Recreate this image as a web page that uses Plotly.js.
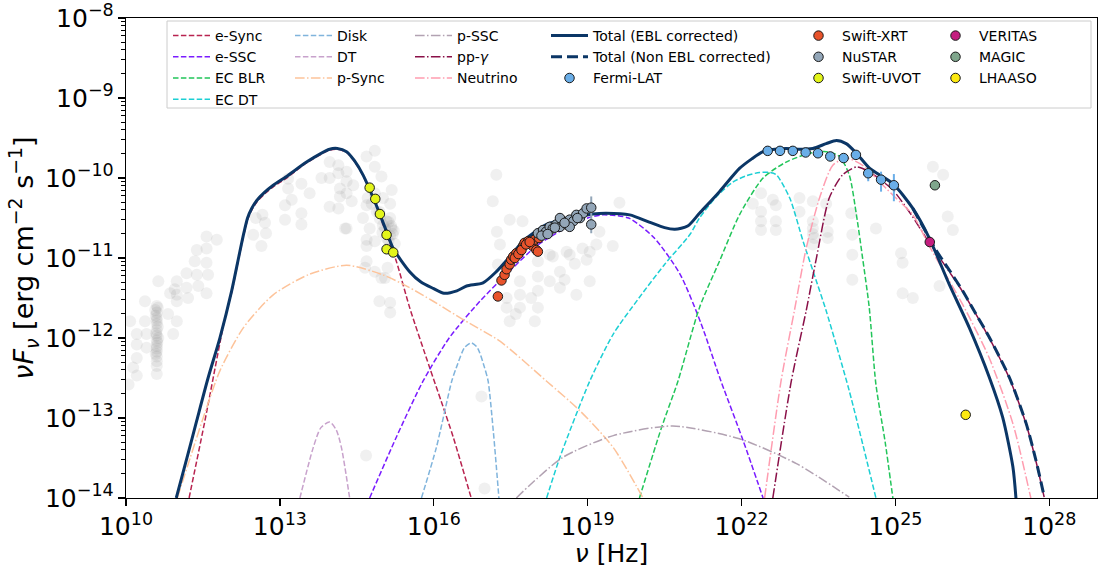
<!DOCTYPE html>
<html>
<head>
<meta charset="utf-8">
<script src="https://cdn.plot.ly/plotly-3.0.1.min.js"></script>
<style>html,body{margin:0;padding:0;background:#fff}#plot{width:1099px;height:568px}</style>
</head>
<body>
<div id="plot"></div>
<script>
// All values are log10(nu / Hz) and log10(nuFnu / erg cm^-2 s^-1)

// ---- model curves ----
const totalX = [10.98,11.2,11.38,11.6,11.83,12.06,12.2,12.3,12.37,12.45,12.55,12.7,12.87,13.13,13.52,13.97,14.12,14.3,14.45,14.62,14.88,15.05,15.21,15.53,15.75,15.99,16.2,16.45,16.64,16.96,17.22,17.5,17.74,18.2,18.5,18.85,19.1,19.36,19.82,20.2,20.5,20.7,20.95,21.18,21.57,21.96,22.2,22.42,22.65,22.87,23.1,23.39,23.65,23.85,24.04,24.24,24.5,24.95,25.34,25.66,26.05,26.44,26.83,27.09,27.29,27.35];
const totalY = [-14,-13.47,-13.03,-12.5,-12.0,-11.41,-10.98,-10.68,-10.5,-10.38,-10.28,-10.18,-10.09,-9.98,-9.8,-9.64,-9.63,-9.67,-9.78,-9.96,-10.34,-10.62,-10.88,-11.17,-11.3,-11.38,-11.44,-11.41,-11.35,-11.31,-11.17,-10.97,-10.79,-10.58,-10.52,-10.48,-10.45,-10.44,-10.46,-10.55,-10.62,-10.64,-10.6,-10.44,-10.17,-9.88,-9.76,-9.67,-9.64,-9.63,-9.64,-9.63,-9.57,-9.53,-9.57,-9.69,-9.88,-10.07,-10.38,-10.75,-11.33,-11.87,-12.49,-12.99,-13.61,-14];
const totalNoEblX = [25.34,25.66,25.79,26.05,26.31,26.57,26.83,27.22,27.55,27.74,27.9];
const totalNoEblY = [-10.38,-10.75,-10.9,-11.15,-11.41,-11.7,-11.99,-12.49,-13.07,-13.53,-13.98];
const eSyncX = [11.23,11.54,11.93,12.06,12.2,12.3,12.37,12.45,12.55,12.7,12.87,13.13,13.52,13.97,14.12,14.3,14.45,14.62,14.88,15.05,15.27,15.53,15.92,16.15,16.38,16.73];
const eSyncY = [-14,-13.03,-11.75,-11.43,-11.0,-10.7,-10.52,-10.4,-10.3,-10.2,-10.11,-10.0,-9.81,-9.65,-9.64,-9.68,-9.79,-9.97,-10.35,-10.65,-11.04,-11.62,-12.37,-12.8,-13.24,-14];
const eSscX = [14.75,15.27,15.79,16.3,16.9,17.5,18.0,18.5,19.0,19.3,19.8,20.3,20.8,21.2,21.6,22.03,22.42];
const eSscY = [-14,-13.24,-12.54,-12.0,-11.54,-11.15,-10.85,-10.65,-10.5,-10.46,-10.5,-10.75,-11.2,-11.8,-12.54,-13.28,-14];
const ecBlrX = [20.01,20.44,20.76,21.18,21.57,21.96,22.42,22.87,23.33,23.65,23.91,24.1,24.24,24.36,24.49,24.62,24.8,24.95];
const ecBlrY = [-14,-13.12,-12.54,-11.62,-11.04,-10.46,-10.0,-9.8,-9.69,-9.67,-9.73,-9.96,-10.46,-11.0,-11.62,-12.58,-13.3,-14];
const ecDtX = [18.2,18.46,19.04,19.5,20.0,20.5,21.0,21.18,21.5,21.83,22.1,22.35,22.55,22.68,22.94,23.2,23.46,23.65,24.1,24.62];
const ecDtY = [-14,-13.49,-12.54,-11.95,-11.5,-11.08,-10.7,-10.5,-10.24,-10.05,-9.97,-9.93,-9.93,-9.96,-10.25,-10.79,-11.29,-11.66,-12.66,-14];
const diskX = [15.76,16.05,16.35,16.44,16.6,16.73,16.85,16.99,17.06,17.16,17.27];
const diskY = [-14,-13.37,-12.54,-12.37,-12.12,-12.06,-12.12,-12.37,-12.54,-13.16,-14];
const dtX = [13.39,13.65,13.8,13.97,14.1,14.2,14.36];
const dtY = [-14,-13.37,-13.12,-13.05,-13.15,-13.37,-14];
const pSyncX = [11.0,11.25,11.51,11.83,12.29,12.87,13.55,14.3,15.01,15.5,15.99,16.6,17.29,18.2,18.85,19.5,20.08];
const pSyncY = [-14,-13.5,-12.99,-12.41,-11.87,-11.46,-11.21,-11.09,-11.21,-11.36,-11.54,-11.78,-12.04,-12.54,-12.91,-13.37,-14];
const pSscX = [17.61,17.87,18.52,19.5,20.66,21.96,23.07,24.1];
const pSscY = [-14,-13.84,-13.49,-13.22,-13.1,-13.26,-13.57,-13.99];
const ppGX = [22.61,22.97,23.26,23.46,23.71,23.97,24.24,24.36,24.6,24.95,25.3,25.6,25.79,26.31,26.83,27.22,27.55,27.74,27.9];
const ppGY = [-14,-12.54,-11.66,-11.0,-10.25,-9.96,-9.86,-9.88,-9.97,-10.15,-10.45,-10.75,-10.93,-11.42,-12.0,-12.5,-13.08,-13.54,-13.99];
const nuX = [22.45,22.77,23.03,23.26,23.52,23.78,24.04,24.36,24.82,25.01,25.34,25.66,26.31,26.83,27.29,27.64];
const nuY = [-14,-12.54,-11.66,-10.88,-10.25,-9.84,-9.75,-9.84,-10.13,-10.25,-10.46,-10.85,-11.58,-12.25,-13.07,-14];

// ---- observations ----
const uvotX = [14.75,14.86,14.95,15.08,15.08,15.21];
const uvotY = [-10.12,-10.26,-10.45,-10.71,-10.89,-10.93];
const xrtX = [17.25,17.32,17.38,17.42,17.48,17.51,17.55,17.61,17.68,17.74,17.77,17.84,17.9,17.93,18.0,18.03,17.97,18.05,18.1,17.58,17.65,17.71,17.8,17.87];
const xrtY = [-11.48,-11.28,-11.21,-11.14,-11.08,-11.02,-10.98,-10.94,-10.92,-10.85,-10.81,-10.79,-10.81,-10.85,-10.9,-10.92,-10.77,-10.75,-10.71,-11.0,-10.95,-10.9,-10.83,-10.8];
const nustarX = [18.03,18.13,18.19,18.26,18.32,18.39,18.46,18.52,18.59,18.65,18.72,18.78,18.85,18.91,18.98,19.07,19.07,18.46,18.65,18.1,18.22,18.36,18.55,18.8];
const nustarY = [-10.69,-10.65,-10.67,-10.61,-10.63,-10.58,-10.61,-10.54,-10.58,-10.52,-10.54,-10.46,-10.5,-10.44,-10.38,-10.37,-10.58,-10.5,-10.61,-10.72,-10.7,-10.62,-10.56,-10.5];
const nustarErrUp = [0,0,0,0,0,0,0,0,0,0,0,0,0,0,0,0.14,0,0,0,0,0,0,0,0];
const nustarErrDn = [0,0,0,0,0,0,0,0,0,0,0,0,0,0,0,0.32,0,0,0,0,0,0,0,0];
const fermiX = [22.51,22.75,23.0,23.25,23.49,23.73,23.99,24.23,24.47,24.72,24.97];
const fermiY = [-9.66,-9.66,-9.66,-9.68,-9.69,-9.73,-9.75,-9.71,-9.94,-10.02,-10.09];
const fermiErrUp = [0.01,0.01,0.01,0.01,0.01,0.01,0.01,0.02,0.03,0.1,0.14];
const fermiErrDn = [0.01,0.01,0.01,0.01,0.01,0.01,0.01,0.02,0.1,0.15,0.2];
const veritasX = [25.67], veritasY = [-10.8];
const magicX = [25.77], magicY = [-10.09];
const lhaasoX = [26.37], lhaasoY = [-12.96];

// archival (grey background) points
const archX = [10.6,10.6,10.6,10.6,10.6,10.6,10.6,10.6,10.6,10.6,10.6,10.57,10.63,10.6,10.6,10.58,10.62,10.59,10.61,10.6,10.6,10.58,10.62,
 11.57,11.57,11.77,11.38,11.34,11.57,11.18,11.38,11.6,10.99,10.95,11.18,11.41,10.86,10.99,11.21,11.57,10.63,10.37,10.99,10.82,10.99,10.92,10.37,10.08,10.21,10.4,10.21,10.4,10.21,10.14,10.21,10.05,
 13.16,13.16,13.42,13.42,13.42,13.1,13.1,13.23,13.58,12.73,12.53,12.66,12.48,12.64,12.71,13.81,13.97,14.14,13.97,14.14,14.3,14.3,14.17,14.17,14.3,14.43,14.4,13.97,14.14,14.3,14.69,14.85,14.85,14.98,15.18,15.15,14.69,14.62,14.75,14.69,14.69,14.85,15.15,15.18,15.08,15.01,14.94,15.15,15.15,14.94,14.69,14.66,14.85,14.98,14.27,
 14.95,15.05,15.15,15.24,15.1,15.01,14.89,14.79,14.71,14.85,15.1,15.05,15.12,15.2,15.0,15.17,15.22,15.12,15.08,
 17.22,17.25,14.68,16.93,16.99,
 17.42,17.42,17.68,17.68,17.68,18.03,18.03,18.03,18.03,18.32,18.59,18.9,18.46,18.75,19.04,17.29,17.23,19.23,17.48,17.97,17.15,17.48,17.73,19.62,19.17,19.49,18.65,18.98,19.04,18.55,18.26,18.26,18.46,18.78,17.6,17.9,
 22.38,22.38,22.38,22.38,22.22,22.61,22.67,22.67,22.67,23.13,23.13,23.39,23.39,23.39,23.39,23.65,23.68,23.68,23.68,24.14,24.16,24.16,24.62,24.16,25.11,25.14,25.14,25.34,25.86,25.73,25.93,26.02,26.12,23.39,23.42];
const archY = [-11.6,-11.68,-11.75,-11.82,-11.9,-11.97,-12.03,-12.1,-12.17,-12.23,-12.29,-11.65,-12.0,-12.35,-12.45,-11.72,-11.86,-11.94,-12.06,-12.13,-11.78,-12.2,-11.62,
 -10.73,-10.88,-10.77,-10.9,-11.04,-11.06,-11.19,-11.21,-11.21,-11.29,-11.39,-11.37,-11.35,-11.44,-11.46,-11.5,-11.44,-11.29,-11.54,-11.54,-11.7,-11.79,-11.95,-11.79,-11.79,-11.95,-11.95,-12.08,-12.12,-12.25,-12.37,-12.47,-12.58,
 -10.01,-10.13,-10.07,-10.44,-10.58,-10.34,-10.52,-10.27,-10.19,-10.69,-10.5,-10.46,-10.71,-10.85,-10.56,-10.0,-10.0,-9.94,-9.8,-9.84,-9.92,-10.04,-10.13,-10.23,-10.19,-10.09,-10.29,-10.36,-10.38,-10.63,-9.73,-9.66,-9.86,-9.98,-10.15,-10.32,-10.34,-10.5,-10.63,-10.77,-10.85,-10.79,-10.5,-10.63,-10.54,-10.25,-10.42,-11.56,-11.68,-11.54,-11.04,-11.12,-11.17,-11.25,-10.63,
 -10.51,-10.63,-10.72,-10.82,-10.88,-10.59,-10.42,-10.32,-10.25,-10.19,-11.12,-11.25,-10.78,-10.7,-10.68,-10.6,-10.66,-10.55,-10.75,
 -9.96,-11.08,-13.47,-12.73,-13.88,
 -11.5,-11.62,-11.29,-11.46,-11.62,-11.04,-11.23,-11.41,-11.62,-10.98,-10.92,-10.88,-11.17,-11.07,-10.92,-10.83,-10.67,-10.67,-11.79,-11.79,-10.29,-10.52,-10.54,-10.31,-10.83,-10.85,-10.96,-11.02,-11.29,-11.27,-10.96,-11.29,-11.37,-11.46,-11.7,-11.5,
 -10.19,-10.42,-10.54,-10.65,-10.32,-10.27,-10.34,-10.54,-10.65,-10.25,-10.42,-10.29,-10.54,-10.63,-10.83,-10.32,-10.52,-10.67,-10.75,-10.44,-10.71,-10.96,-10.63,-11.27,-10.94,-11.06,-11.44,-11.5,-11.35,-9.86,-9.96,-10.48,-10.65,-10.7,-10.75];

const P = a => a.map(v => Math.pow(10, v));
const errs = (y, d) => y.map((v, i) => Math.pow(10, v + d[i]) - Math.pow(10, v));
const errsDn = (y, d) => y.map((v, i) => Math.pow(10, v) - Math.pow(10, v - d[i]));

const DASH = '5.5px,2.4px';
const DASHDOT = '9.6px,2.4px,1.5px,2.4px';

function curve(name, xs, ys, color, dash, width, leg) {
  return {x: P(xs), y: P(ys), name: name, type: 'scatter', mode: 'lines',
    line: {color: color, dash: dash, width: width, shape: 'spline', smoothing: 0.7},
    legend: leg, hoverinfo: 'skip'};
}
function pts(name, xs, ys, color, leg, eu, ed, ecol) {
  const t = {x: P(xs), y: P(ys), name: name, type: 'scatter', mode: 'markers',
    marker: {color: color, size: 9.5, line: {color: '#1a1a1a', width: 1}},
    legend: leg, hoverinfo: 'skip'};
  if (eu) {
    t.error_y = {type: 'data', symmetric: false, array: errs(ys, eu), arrayminus: errsDn(ys, ed),
      color: ecol || color, thickness: 2, width: 0};
  }
  return t;
}

const traces = [
  {x: P(archX), y: P(archY), type: 'scatter', mode: 'markers', showlegend: false, hoverinfo: 'skip',
   marker: {color: 'rgba(110,110,110,0.10)', size: 12}},
  curve('e-Sync', eSyncX, eSyncY, '#b8234f', DASH, 1.5, 'legend'),
  curve('e-SSC', eSscX, eSscY, '#7a1cff', DASH, 1.5, 'legend'),
  curve('EC BLR', ecBlrX, ecBlrY, '#22c55a', DASH, 1.5, 'legend'),
  curve('EC DT', ecDtX, ecDtY, '#1ccfd4', DASH, 1.5, 'legend'),
  curve('Disk', diskX, diskY, '#80b4dc', DASH, 1.5, 'legend2'),
  curve('DT', dtX, dtY, '#c8a2cc', DASH, 1.5, 'legend2'),
  curve('p-Sync', pSyncX, pSyncY, '#fdc39a', DASHDOT, 1.5, 'legend2'),
  curve('p-SSC', pSscX, pSscY, '#b2a2b2', DASHDOT, 1.5, 'legend3'),
  curve('pp-<i>γ</i>', ppGX, ppGY, '#8a1048', DASHDOT, 1.5, 'legend3'),
  curve('Neutrino', nuX, nuY, '#ff9db0', DASHDOT, 1.5, 'legend3'),
  curve('Total (EBL corrected)', totalX, totalY, '#0b3666', 'solid', 3, 'legend4'),
  curve('Total (Non EBL corrected)', totalNoEblX, totalNoEblY, '#0b3666', '11px,5px', 3, 'legend4'),
  pts('Fermi-LAT', fermiX, fermiY, '#6aaee8', 'legend4', fermiErrUp, fermiErrDn),
  pts('Swift-XRT', xrtX, xrtY, '#e8532b', 'legend5'),
  pts('NuSTAR', nustarX, nustarY, '#93a6b8', 'legend5', nustarErrUp, nustarErrDn, '#93a6b8'),
  pts('Swift-UVOT', uvotX, uvotY, '#e3f51a', 'legend5'),
  pts('VERITAS', veritasX, veritasY, '#c41d7f', 'legend6'),
  pts('MAGIC', magicX, magicY, '#7fa68c', 'legend6'),
  pts('LHAASO', lhaasoX, lhaasoY, '#fde910', 'legend6')
];

const FONT = 'DejaVu Sans, Liberation Sans, sans-serif';
const L = 126, R = 1097, T = 18, B = 498;
const px2x = p => (p - L) / (R - L);
const py2y = p => (B - p) / (B - T);
function leg(xpx) {
  return {x: px2x(xpx), y: py2y(20), xanchor: 'left', yanchor: 'top', bgcolor: 'rgba(0,0,0,0)',
    borderwidth: 0, itemwidth: 37, tracegroupgap: 0, traceorder: 'normal',
    font: {family: FONT, size: 14, color: '#000'}};
}

const layout = {
  width: 1099, height: 568,
  margin: {l: L, r: 1099 - R, t: T, b: 568 - B},
  paper_bgcolor: '#fff', plot_bgcolor: '#fff',
  font: {family: FONT, color: '#000'},
  showlegend: true,
  xaxis: {type: 'log', range: [10, 28.93], tick0: 10, dtick: 3, exponentformat: 'power', showexponent: 'all',
    ticks: 'outside', ticklen: 7, tickwidth: 1.3, tickcolor: '#000', showline: true, linecolor: '#000', linewidth: 1.3,
    mirror: true, showgrid: false, zeroline: false, tickfont: {size: 20, family: FONT}, ticklabeloverflow: 'allow',
    title: {text: '<i>ν</i> [Hz]', font: {size: 25, family: FONT}, standoff: 15}},
  yaxis: {type: 'log', range: [-14, -7.999], tick0: -14, dtick: 1, exponentformat: 'power', showexponent: 'all',
    ticks: 'outside', ticklen: 7, tickwidth: 1.3, tickcolor: '#000', showline: true, linecolor: '#000', linewidth: 1.3,
    mirror: true, showgrid: false, zeroline: false, tickfont: {size: 20, family: FONT}, ticklabeloverflow: 'allow',
    minor: {ticks: 'outside', ticklen: 4, tickwidth: 1, tickcolor: '#000', dtick: 'D1', showgrid: false},
    title: {text: '<i>νF</i><sub><i>ν</i></sub> [erg cm<sup>−2</sup> s<sup>−1</sup>]', font: {size: 27, family: FONT}, standoff: 3}},
  legend: leg(168), legend2: leg(290), legend3: leg(410), legend4: leg(546), legend5: leg(795), legend6: leg(932),
  shapes: [{type: 'rect', xref: 'paper', yref: 'paper', x0: px2x(167), x1: px2x(1091), y0: py2y(108), y1: py2y(21),
    fillcolor: 'rgba(255,255,255,0.8)', line: {color: '#cccccc', width: 1}, layer: 'above'}]
};

Plotly.newPlot('plot', traces, layout, {staticPlot: true, displayModeBar: false});
</script>
</body>
</html>
